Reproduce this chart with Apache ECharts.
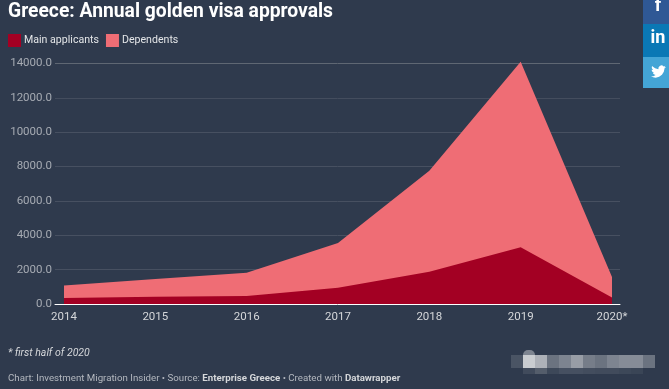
<!DOCTYPE html>
<html>
<head>
<meta charset="utf-8">
<style>
html, body { margin: 0; padding: 0; background: #2f3a4d; }
#chart { width: 669px; height: 389px; }
</style>
<script src="https://cdn.jsdelivr.net/npm/echarts@6/dist/echarts.min.js"></script>
</head>
<body>
<div id="chart"></div>
<script>
const years = [2014, 2015, 2016, 2017, 2018, 2019, 2020];
const mainApplicants = [350, 420, 470, 950, 1880, 3300, 380];
const dependents = [730, 1030, 1350, 2600, 5870, 10800, 1190];
const yearLabels = ['2014', '2015', '2016', '2017', '2018', '2019', '2020*'];
const mosaicColors = ['#4a5464', '#c9ccd0', '#adb1b8', '#6b7380', '#7d8490', '#989da6', '#767d89', '#6b7380', '#7d8490', '#868c97', '#868c97', '#6b7380'];
const mosaicLower = ['#2f3a4d', '#414b5c', '#545d6b', '#3d4859', '#465061', '#465061', '#434d5e', '#414b5c', '#414b5c', '#3d4859', '#3a4556', '#2f3a4d'];
const birdOutline = [[24, 4.6], [21.1, 5.3], [23.3, 2.6], [20.2, 3.8], [18.5, 2.4], [16.5, 2], [14, 3], [12, 5.5], [11.8, 8.3], [6.5, 6.9], [1.6, 3.2], [1.2, 6.5], [3.2, 9.7], [0.9, 9.1], [1.8, 12], [4.9, 14], [2.7, 14.1], [4.5, 16.5], [7.3, 17.5], [3.8, 19.4], [0, 19.5], [3.5, 21.2], [7.5, 21.8], [13, 20.5], [17.5, 17], [20.5, 12.5], [21.5, 7.8], [21.5, 7.1]];

const pair = (vals) => vals.map((v, i) => [years[i], v]);
// stack by hand: echarts would stack on x when both axes are value axes
const totals = dependents.map((v, i) => v + mainApplicants[i]);

const chart = echarts.init(document.getElementById('chart'));

// blurred logo bottom right
const mosaic = [];
mosaicColors.forEach((c, i) => {
  mosaic.push({ type: 'rect', shape: { x: 511 + i * 12, y: 355, width: 12, height: 13 }, style: { fill: c } });
});
mosaicLower.forEach((c, i) => {
  mosaic.push({ type: 'rect', shape: { x: 511 + i * 12, y: 368, width: 12, height: 6 }, style: { fill: c } });
});
mosaic.push({ type: 'rect', shape: { x: 523, y: 350, width: 12, height: 5, r: [5, 5, 0, 0] }, style: { fill: '#7d8490' } });

chart.setOption({
  backgroundColor: '#2f3a4d',
  animation: false,
  textStyle: { fontFamily: 'Roboto' },
  title: [
    {
      text: 'Greece: Annual golden visa approvals',
      left: 8, top: 3, padding: 0,
      textStyle: { color: '#fff', fontSize: 19.3, fontWeight: 'bold', fontFamily: 'Roboto' }
    },
    {
      text: '* first half of 2020',
      left: 8, top: 348, padding: 0,
      textStyle: { color: '#d5d7da', fontSize: 10.5, fontStyle: 'italic', fontWeight: 'normal', fontFamily: 'Roboto' }
    },
    {
      text: 'Chart: Investment Migration Insider • Source: {b|Enterprise Greece} • Created with {b|Datawrapper}',
      left: 8, top: 374, padding: 0,
      textStyle: {
        color: '#b4b8bf', fontSize: 9.7, fontWeight: 'normal', fontFamily: 'Roboto',
        rich: { b: { color: '#d5d7da', fontSize: 9.7, fontWeight: 'bold', fontFamily: 'Roboto' } }
      }
    }
  ],
  legend: {
    left: 8, top: 34, padding: 0,
    itemWidth: 13, itemHeight: 13, itemGap: 7,
    icon: 'rect',
    data: ['Main applicants', 'Dependents'],
    textStyle: { color: '#e4e6e8', fontSize: 10.6, fontFamily: 'Roboto', padding: [0, 0, 0, -2] }
  },
  grid: { left: 55, right: 49, top: 63.5, bottom: 85, containLabel: false },
  xAxis: {
    type: 'value',
    min: 2013.9015,
    max: 2020.0876,
    splitLine: { show: false },
    axisTick: { show: false },
    axisLine: { show: true, onZero: true, lineStyle: { color: '#fff', width: 1 } },
    axisLabel: {
      customValues: years,
      color: '#d5d7da',
      fontSize: 11.5,
      margin: 7,
      fontFamily: 'Roboto',
      formatter: (v) => yearLabels[years.indexOf(v)]
    }
  },
  yAxis: {
    type: 'value',
    min: 0,
    max: 14000,
    interval: 2000,
    axisLine: { show: false },
    axisTick: { show: false },
    splitLine: { lineStyle: { color: ['#2f3a4d', '#475061', '#475061', '#475061', '#475061', '#475061', '#444d5e', '#5f6773'], width: 1 } },
    axisLabel: {
      color: '#a6abb3',
      fontSize: 11.5,
      margin: 3,
      fontFamily: 'Roboto',
      formatter: (v) => v.toFixed(1)
    }
  },
  series: [
    {
      name: 'Dependents',
      type: 'line',
      data: pair(totals),
      symbol: 'none',
      clip: false,
      z: 2,
      lineStyle: { width: 0 },
      itemStyle: { color: '#ef6d75' },
      areaStyle: { color: '#ef6d75', opacity: 1 }
    },
    {
      name: 'Main applicants',
      type: 'line',
      data: pair(mainApplicants),
      symbol: 'none',
      z: 3,
      lineStyle: { width: 0 },
      itemStyle: { color: '#a30023' },
      areaStyle: { color: '#a30023', opacity: 1 }
    }
  ],
  graphic: [
    { type: 'rect', shape: { x: 643, y: 0, width: 26, height: 24 }, style: { fill: '#2f5895' } },
    { type: 'rect', shape: { x: 643, y: 24, width: 26, height: 33 }, style: { fill: '#0a78b5' } },
    { type: 'rect', shape: { x: 643, y: 57, width: 26, height: 31 }, style: { fill: '#44a5d6' } },
    { type: 'text', style: { text: 'f', x: 658, y: 6, fill: '#fff', font: 'bold 18px Roboto', align: 'center', verticalAlign: 'middle' } },
    { type: 'text', style: { text: 'in', x: 658, y: 38, fill: '#fff', font: 'bold 18px Roboto', align: 'center', verticalAlign: 'middle' } },
    {
      type: 'polygon',
      x: 651, y: 64, scaleX: 0.625, scaleY: 0.625,
      shape: { points: birdOutline },
      style: { fill: '#fff' }
    }
  ].concat(mosaic)
});
</script>
</body>
</html>
